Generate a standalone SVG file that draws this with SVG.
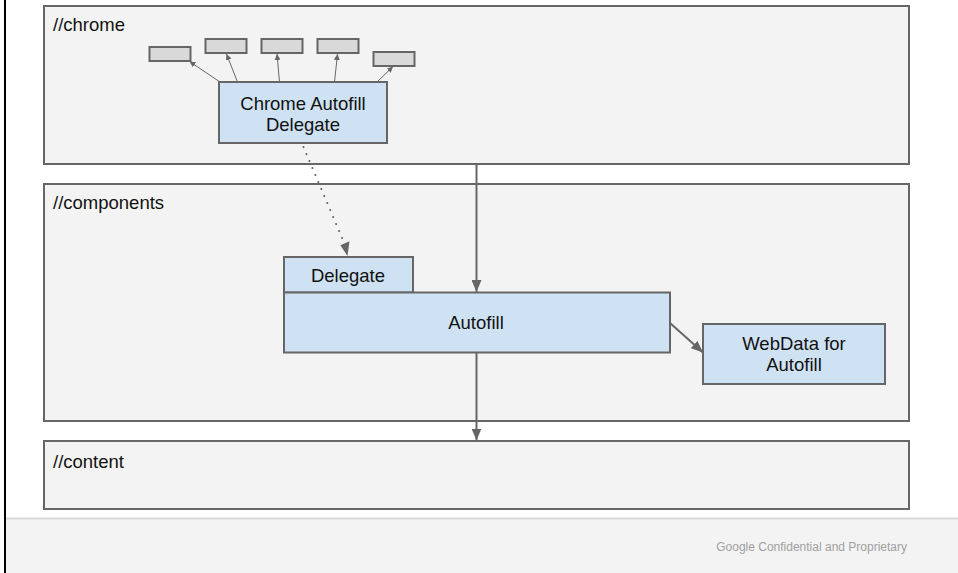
<svg xmlns="http://www.w3.org/2000/svg" width="958" height="573" viewBox="0 0 958 573">
<style>
  .panel { fill: #f3f3f3; stroke: #666666; stroke-width: 2; }
  .blue { fill: #cfe2f3; stroke: #666666; stroke-width: 2; }
  .small { fill: #d9d9d9; stroke: #666666; stroke-width: 2; }
  .lbl { font-family: "Liberation Sans", Arial, sans-serif; font-size: 18.5px; fill: #111111; }
  .ctr { text-anchor: middle; }
  .conn { stroke: #666666; fill: none; }
  .thin { stroke-width: 1; }
  .thick { stroke-width: 2; }
  .dot { stroke-width: 2; stroke-dasharray: 0.1 7.5; stroke-linecap: round; }
  .foot { font-family: "Liberation Sans", Arial, sans-serif; font-size: 12px; fill: #a0a0a0; }
</style>
<defs>
  <marker id="ahSmall" viewBox="0 0 10 10" refX="10" refY="5" markerWidth="6" markerHeight="6" markerUnits="userSpaceOnUse" orient="auto">
    <path d="M0,0 L10,5 L0,10 z" fill="#666666"/>
  </marker>
  <marker id="ahBig" viewBox="0 0 12 10" refX="12" refY="5" markerWidth="12" markerHeight="10" markerUnits="userSpaceOnUse" orient="auto">
    <path d="M0,0 L12,5 L0,10 z" fill="#666666"/>
  </marker>
</defs>
<rect x="0" y="0" width="958" height="573" fill="#ffffff"/>
<g id="footer">
  <rect x="6" y="518" width="952" height="55" fill="#f3f3f3"/>
  <line x1="6" y1="518.5" x2="958" y2="518.5" stroke="#d9d9d9" stroke-width="2"/>
  <text class="foot" x="907" y="551" text-anchor="end">Google Confidential and Proprietary</text>
</g>
<line x1="5" y1="0" x2="5" y2="573" stroke="#000000" stroke-width="2"/>

<g id="chrome">
  <rect class="panel" x="44" y="6" width="865" height="158"/>
  <text class="lbl" x="53" y="31">//chrome</text>
</g>
<g id="components">
  <rect class="panel" x="44" y="184" width="865" height="237"/>
  <text class="lbl" x="53" y="209">//components</text>
</g>
<g id="content">
  <rect class="panel" x="44" y="441" width="865" height="68"/>
  <text class="lbl" x="53" y="468">//content</text>
</g>

<g id="small1"><rect class="small" x="149.5" y="47" width="41" height="14"/></g>
<g id="small2"><rect class="small" x="205.5" y="39" width="41" height="14"/></g>
<g id="small3"><rect class="small" x="261.5" y="39" width="41" height="14"/></g>
<g id="small4"><rect class="small" x="317.5" y="39" width="41" height="14"/></g>
<g id="small5"><rect class="small" x="373.5" y="52" width="41" height="14"/></g>

<g id="chrome-autofill-delegate">
  <rect class="blue" x="219" y="82" width="168" height="61"/>
  <text class="lbl ctr" x="303" y="110">Chrome Autofill</text>
  <text class="lbl ctr" x="303" y="131">Delegate</text>
</g>

<g id="delegate">
  <rect class="blue" x="284" y="257" width="129" height="35.5"/>
  <text class="lbl ctr" x="348" y="282">Delegate</text>
</g>
<g id="autofill">
  <rect class="blue" x="284" y="292.5" width="386" height="60"/>
  <text class="lbl ctr" x="476" y="329">Autofill</text>
</g>
<g id="webdata">
  <rect class="blue" x="703" y="324" width="182" height="60"/>
  <text class="lbl ctr" x="794" y="350">WebData for</text>
  <text class="lbl ctr" x="794" y="371">Autofill</text>
</g>

<g id="connectors">
  <line class="conn thin" x1="220" y1="82" x2="189.5" y2="61.5" marker-end="url(#ahSmall)"/>
  <line class="conn thin" x1="237.5" y1="82" x2="226.5" y2="54" marker-end="url(#ahSmall)"/>
  <line class="conn thin" x1="279.5" y1="82" x2="277" y2="54" marker-end="url(#ahSmall)"/>
  <line class="conn thin" x1="334.5" y1="82" x2="337.5" y2="54" marker-end="url(#ahSmall)"/>
  <line class="conn thin" x1="377" y1="82" x2="393" y2="66.5" marker-end="url(#ahSmall)"/>
  <line class="conn dot" x1="303.5" y1="147" x2="345.5" y2="246"/>
  <path d="M341.5,244.5 L351,241.5 L347.5,256 z" fill="#666666" transform="rotate(-6 347.5 256)"/>
  <line class="conn thick" x1="476.5" y1="164" x2="476.5" y2="292" marker-end="url(#ahBig)"/>
  <line class="conn thick" x1="476.5" y1="353" x2="476.5" y2="440.5" marker-end="url(#ahBig)"/>
  <line class="conn thick" x1="670" y1="323" x2="703" y2="352.5" marker-end="url(#ahBig)"/>
</g>
</svg>
